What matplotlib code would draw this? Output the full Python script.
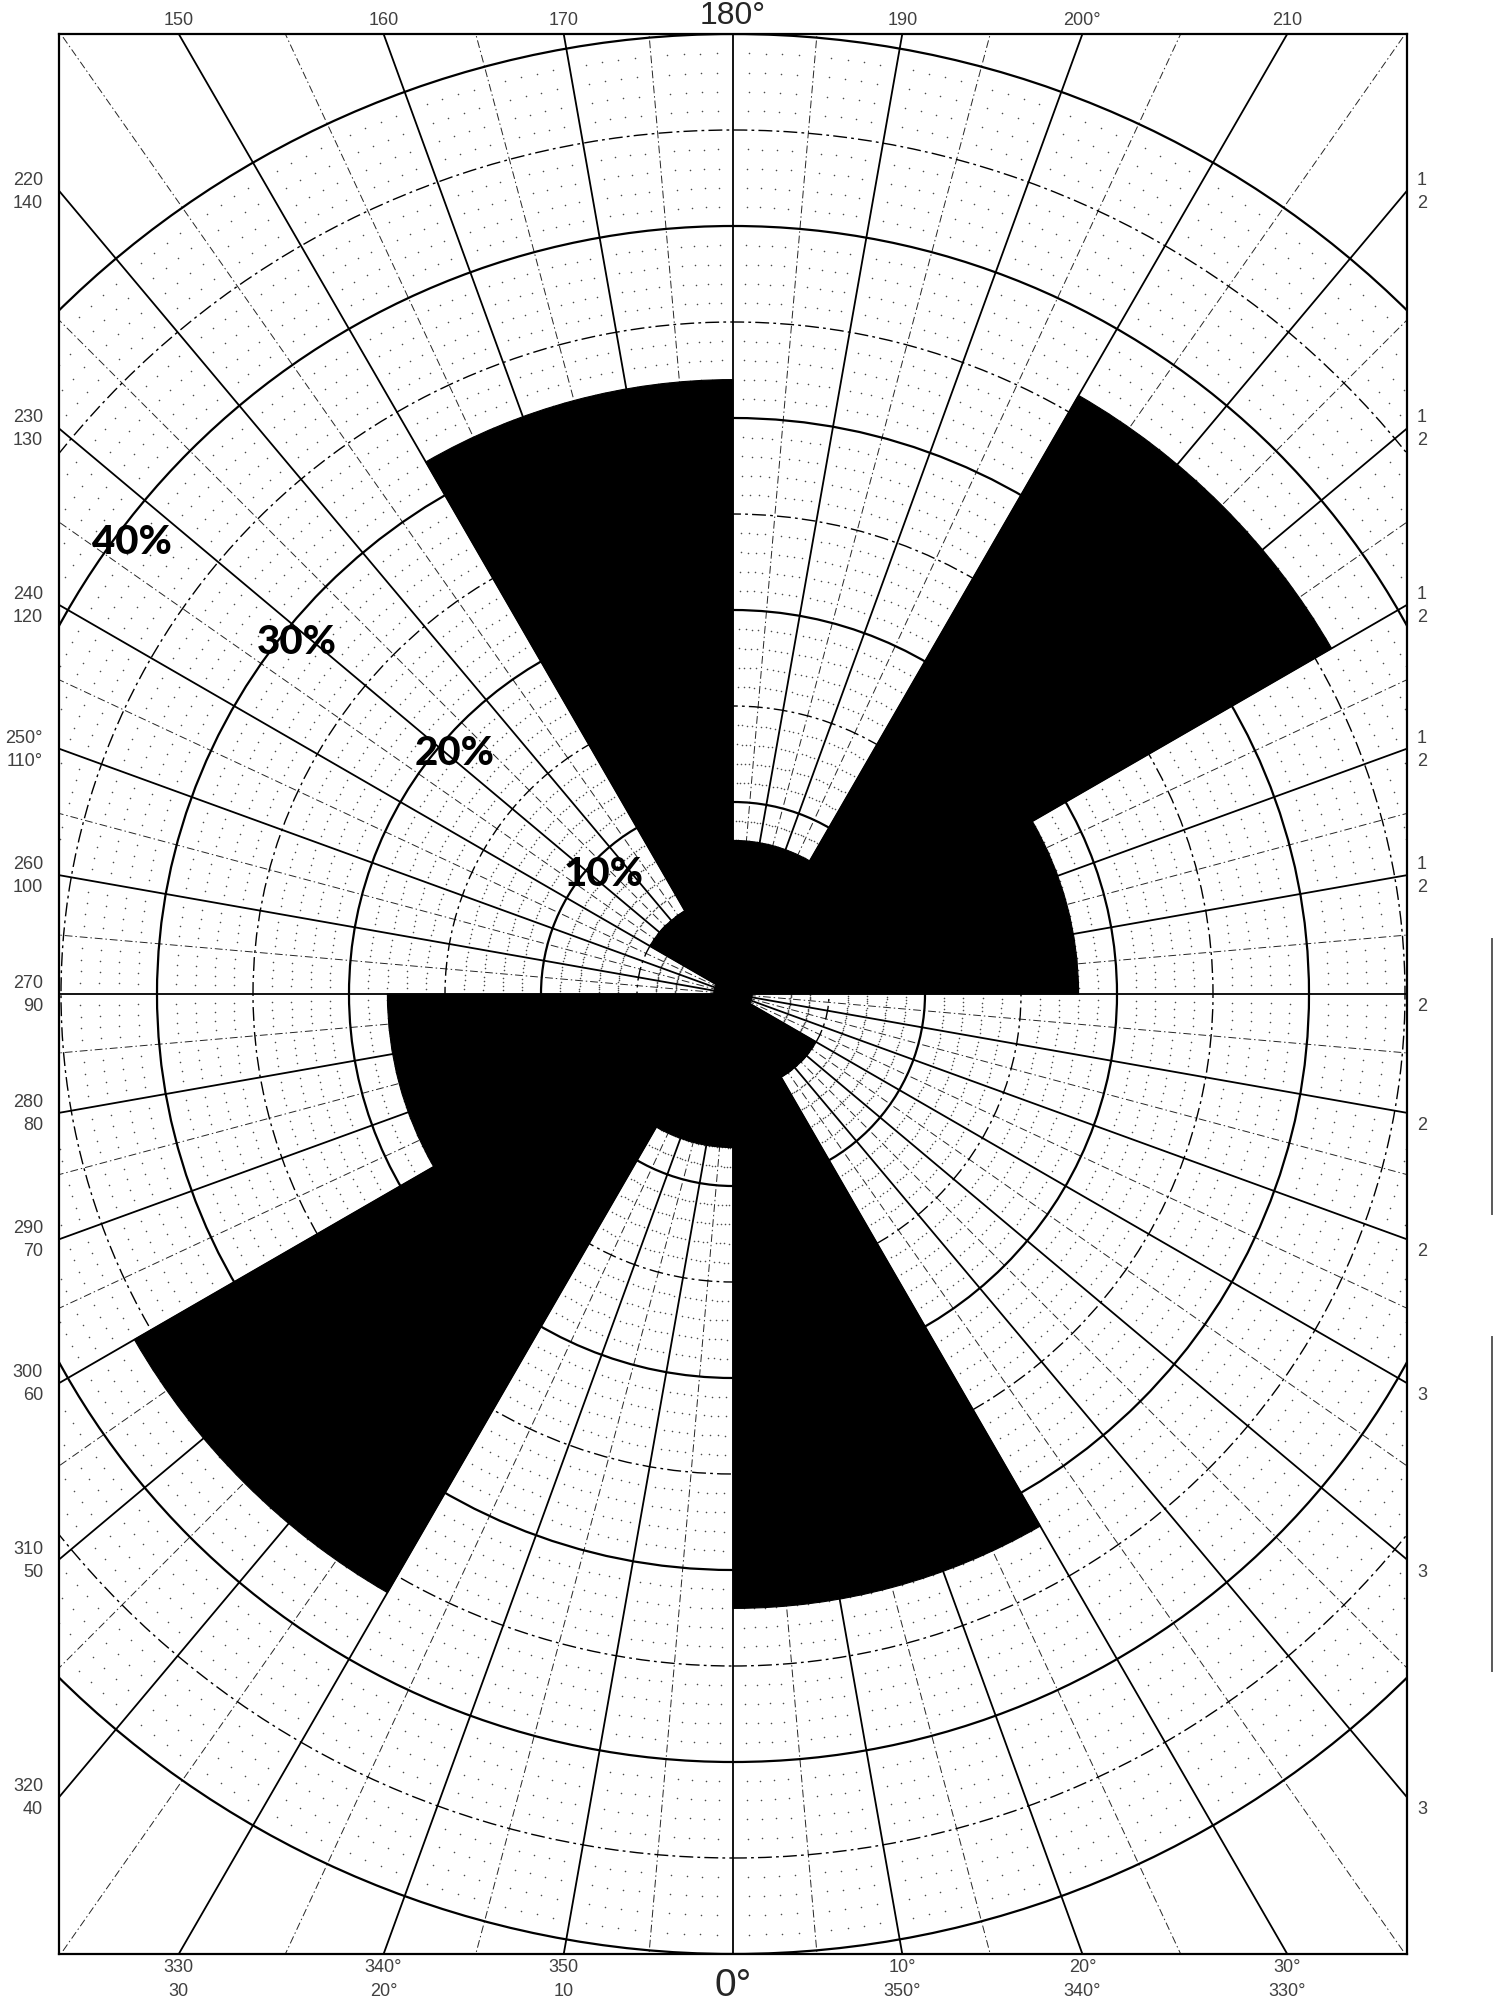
import numpy as np
import matplotlib
matplotlib.use("Agg")
import matplotlib.pyplot as plt
from matplotlib.patches import Wedge, Circle
from matplotlib.lines import Line2D

# 30-degree class frequencies (%), clockwise from north; axial data, so each
# class is also plotted in the opposite direction
sector_edges = [0, 30, 60, 90, 120, 150, 180]
sector_freq = [8, 36, 18, 1, 5, 32]

ring_labels = ["10%", "20%", "30%", "40%"]
ring_values = [10, 20, 30, 40]

# frame scale labels
top_angles = [-30, -20, -10, 0, 10, 20, 30]
top_labels = ["150", "160", "170", "180°", "190", "200°", "210"]

bottom_angles = [-30, -20, -10, 0, 10, 20, 30]
bottom_primary = ["330", "340°", "350", "0°", "10°", "20°", "30°"]
bottom_secondary = ["30", "20°", "10", "", "350°", "340°", "330°"]

side_angles = [50, 40, 30, 20, 10, 0, -10, -20, -30, -40, -50]
left_primary = ["220", "230", "240", "250°", "260", "270", "280", "290", "300", "310", "320"]
left_secondary = ["140", "130", "120", "110°", "100", "90", "80", "70", "60", "50", "40"]
right_upper = ["1", "1", "1", "1", "1", "", "", "", "", "", ""]
right_lower = ["2", "2", "2", "2", "2", "2", "2", "2", "3", "3", "3"]

# sheet geometry (pixels)
W, H, DPI = 1500, 2015, 100
PX = 19.2                      # pixels per percent
CX, CY = 733, 995              # pole
FL, FR, FT, FB = 59, 1407, 35, 1955

fig = plt.figure(figsize=(W / DPI, H / DPI), dpi=DPI)
fig.patch.set_facecolor("white")
ax = fig.add_axes([FL / W, 1 - FB / H, (FR - FL) / W, (FB - FT) / H])
ax.set_xlim((FL - CX) / PX, (FR - CX) / PX)
ax.set_ylim((CY - FB) / PX, (CY - FT) / PX)
ax.set_xticks([])
ax.set_yticks([])
for s in ax.spines.values():
    s.set_linewidth(1.6)
    s.set_color("black")
    s.set_zorder(6)

XR = (FR - CX) / PX           # half width of the frame in percent
YT = (CY - FT) / PX           # half height (= outer ring)

# fine dot grid: every 1 % and every 1 degree
rr, tt = np.meshgrid(np.arange(3, 50), np.arange(0, 360))
mask = (rr % 5 != 0) & (tt % 5 != 0)
rr, tt = rr[mask], np.radians(tt[mask])
ax.scatter(rr * np.sin(tt), rr * np.cos(tt), s=1.3, color="0.3",
           linewidths=0, zorder=1)

# radial lines: solid every 10 degrees, dashed at the 5s
R_FAR = 80
for d in range(0, 360, 5):
    t = np.radians(d)
    xe, ye = R_FAR * np.sin(t), R_FAR * np.cos(t)
    if d % 10 == 0:
        ax.plot([0, xe], [0, ye], color="black", lw=1.3, zorder=2,
                solid_capstyle="butt")
    else:
        ax.plot([0, xe], [0, ye], color="0.15", lw=0.7, zorder=2,
                ls=(0, (8, 3, 1.5, 3)))

# concentric rings every 5 %
for r in range(5, 51, 5):
    if r % 10 == 0:
        ax.add_patch(Circle((0, 0), r, fill=False, ec="black", lw=1.6, zorder=2))
    else:
        ax.add_patch(Circle((0, 0), r, fill=False, ec="black", lw=1.0, zorder=2,
                            ls=(0, (10, 3, 2, 3))))

# rose petals
for a0, a1, f in zip(sector_edges[:-1], sector_edges[1:], sector_freq):
    for off in (0, 180):
        ax.add_patch(Wedge((0, 0), f, 90 - (a1 + off), 90 - (a0 + off),
                           facecolor="black", edgecolor="black", lw=0.8, zorder=3))

# percentage labels
pct_font = dict(family=["Lato", "DejaVu Sans"], weight="black", size=29, color="black")
for lab, v in zip(ring_labels, ring_values):
    a = np.radians(135 + 0.2 * v)
    ax.text((v - 0.8) * np.cos(a), (v - 0.8) * np.sin(a), lab, ha="center",
            va="center", zorder=5, **pct_font)

small = dict(family=["Liberation Sans", "DejaVu Sans"], size=13, color="0.25")
big = dict(family=["Liberation Sans Narrow", "Liberation Sans", "DejaVu Sans"],
           color="0.15")

def py(p):
    return (CY - p) / PX

def px(p):
    return (p - CX) / PX

# top scale
for ang, lab in zip(top_angles, top_labels):
    x = YT * np.tan(np.radians(ang))
    if lab.startswith("180"):
        ax.text(x, py(16), lab, ha="center", va="center", size=23, **big)
    else:
        ax.text(x, py(21), lab, ha="center", va="center", **small)

# bottom scale
for ang, lab, sec in zip(bottom_angles, bottom_primary, bottom_secondary):
    x = YT * np.tan(np.radians(ang))
    if lab == "0°":
        ax.text(x, py(1986), lab, ha="center", va="center", size=28, **big)
    else:
        ax.text(x, py(1968), lab, ha="center", va="center", **small)
        ax.text(x, py(1991), sec, ha="center", va="center", **small)

# side scales
for ang, lp, ls_, ru, rl in zip(side_angles, left_primary, left_secondary,
                                right_upper, right_lower):
    yl = XR * np.tan(np.radians(ang))
    ax.text(px(43), yl + 11.5 / PX, lp, ha="right", va="center", **small)
    ax.text(px(43), yl - 11.5 / PX, ls_, ha="right", va="center", **small)
    if ru:
        ax.text(px(1417), yl + 11.5 / PX, ru, ha="left", va="center", **small)
    ax.text(px(1417), yl - 11.5 / PX, rl, ha="left", va="center", **small)

# edge rules beside the sheet
for y0, y1 in [(940, 1215), (1338, 1672)]:
    fig.add_artist(Line2D([1492 / W, 1492 / W], [1 - y0 / H, 1 - y1 / H],
                          color="0.35", lw=1.4))

fig.savefig("out.png", dpi=DPI, facecolor="white")
